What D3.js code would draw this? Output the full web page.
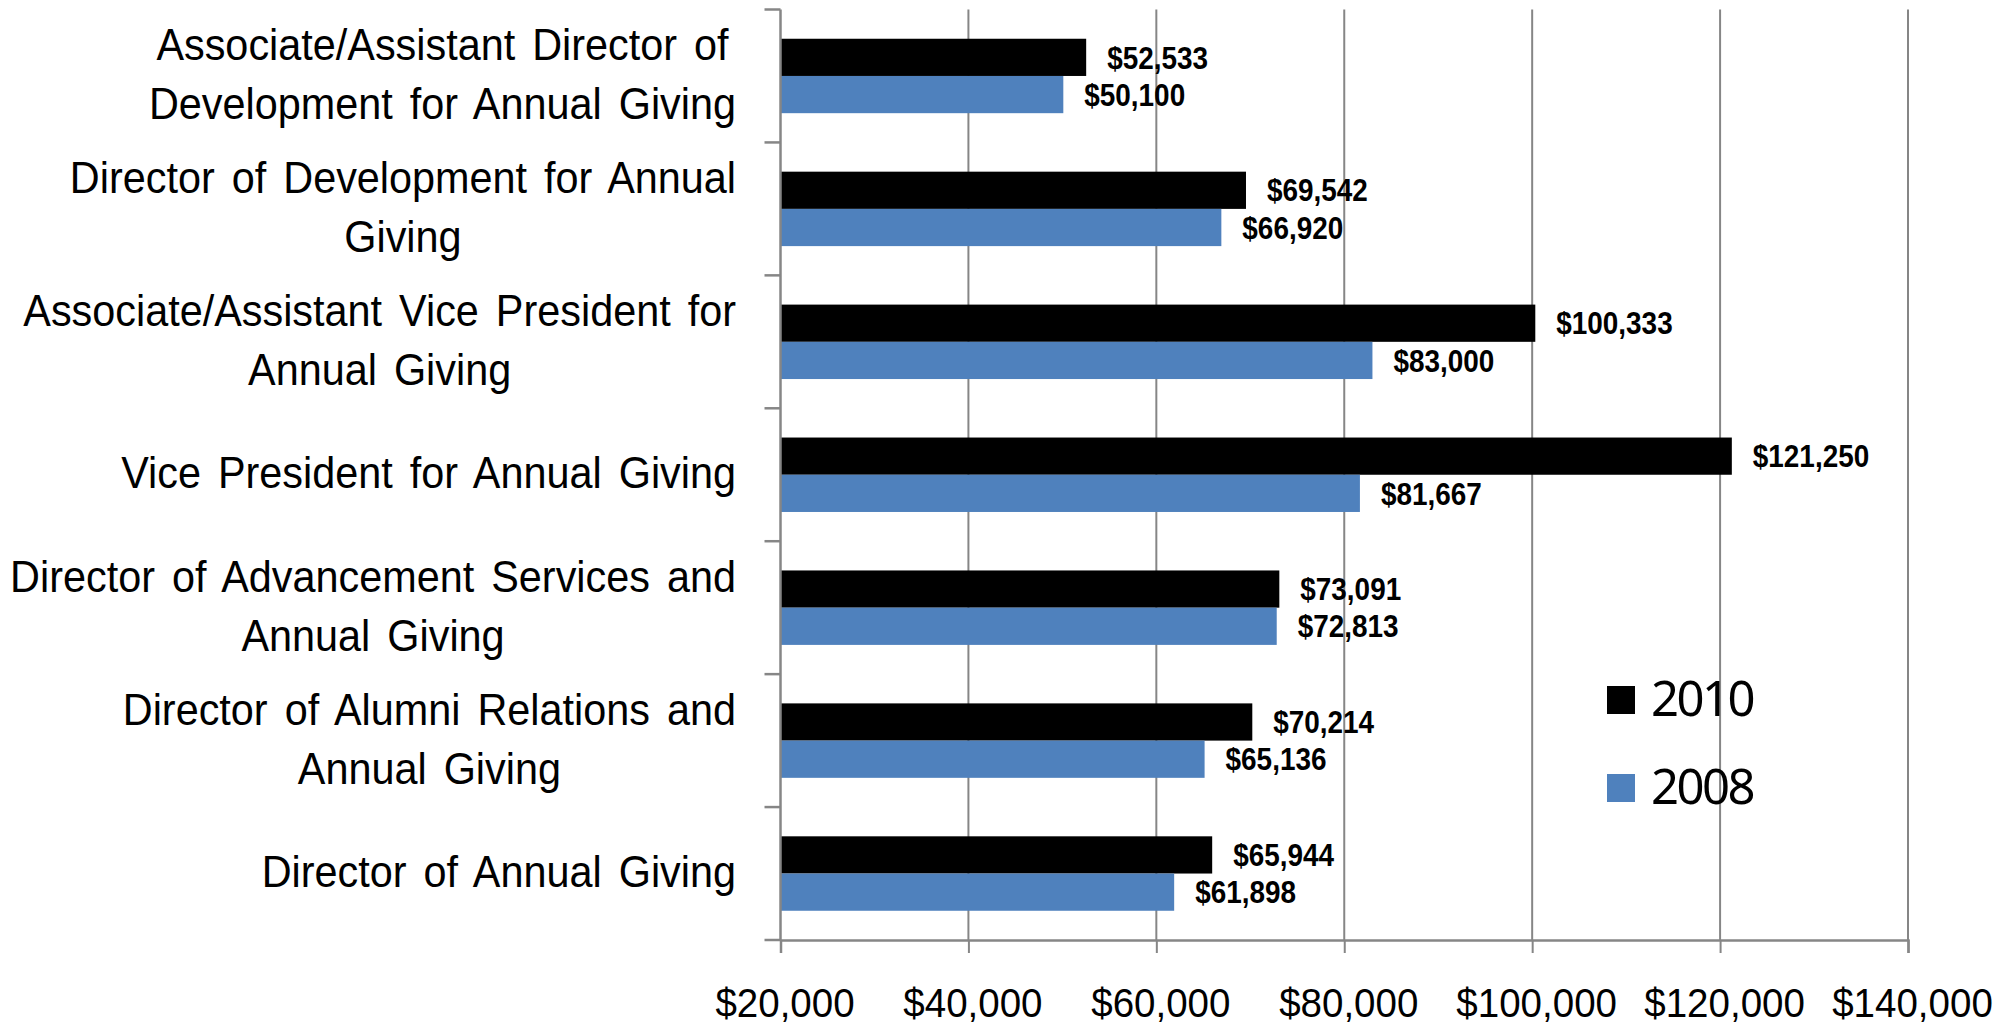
<!DOCTYPE html>
<html>
<head>
<meta charset="utf-8">
<script src="https://cdn.jsdelivr.net/npm/d3@7"></script>
<style>
  html, body { margin: 0; padding: 0; background: #fff; }
  svg { display: block; }
</style>
</head>
<body>
<script>
// ---- Data ----
const categories = [
  "Associate/Assistant Director of\nDevelopment for Annual Giving",
  "Director of Development for Annual\nGiving",
  "Associate/Assistant Vice President for\nAnnual Giving",
  "Vice President for Annual Giving",
  "Director of Advancement Services and\nAnnual Giving",
  "Director of Alumni Relations and\nAnnual Giving",
  "Director of Annual Giving"
];
const seriesNames = ["2010", "2008"];
const values2010 = [52533, 69542, 100333, 121250, 73091, 70214, 65944];
const values2008 = [50100, 66920, 83000, 81667, 72813, 65136, 61898];
const tickValues = [20000, 40000, 60000, 80000, 100000, 120000, 140000];
const colors = ["#000000", "#4F81BD"];

// ---- Layout ----
const W = 2002, H = 1024;
const plotL = 780.5, plotR = 1908, plotT = 9.5, plotB = 940;
const sans = "'Liberation Sans', Arial, sans-serif";
const gridColor = "#868686";

const svg = d3.select("body").append("svg").attr("width", W).attr("height", H);

const x = d3.scaleLinear().domain([20000, 140000]).range([plotL, plotR]);
const y = d3.scaleBand().domain(categories).range([plotT, plotB]).paddingInner(0.44).paddingOuter(0.22);
const ySub = d3.scaleBand().domain(seriesNames).range([0, y.bandwidth()]);

// gridlines
svg.append("g").selectAll("line").data(tickValues.slice(1)).join("line")
  .attr("x1", d => x(d)).attr("x2", d => x(d))
  .attr("y1", plotT).attr("y2", plotB)
  .attr("stroke", gridColor).attr("stroke-width", 2);

// bars
const rows = categories.map((c, i) => ({ cat: c, vals: [values2010[i], values2008[i]] }));
const groups = svg.append("g").selectAll("g").data(rows).join("g")
  .attr("transform", d => `translate(0,${y(d.cat)})`);

groups.selectAll("rect").data(d => d.vals.map((v, j) => ({ v, s: seriesNames[j], j }))).join("rect")
  .attr("x", x(20000))
  .attr("y", d => ySub(d.s))
  .attr("width", d => x(d.v) - x(20000))
  .attr("height", ySub.bandwidth())
  .attr("fill", d => colors[d.j]);

const fmt = d3.format("$,");
groups.selectAll("g.lbl").data(d => d.vals.map((v, j) => ({ v, s: seriesNames[j], j }))).join("g")
  .attr("class", "lbl")
  .attr("transform", d => `translate(${x(d.v) + 21},${ySub(d.s) + ySub.bandwidth() / 2}) scale(0.9,1)`)
  .append("text")
  .attr("dy", "0.36em")
  .attr("font-family", sans)
  .attr("font-weight", "bold")
  .attr("font-size", 31)
  .attr("fill", "#000")
  .text(d => fmt(d.v));

// y axis line and ticks at band boundaries
const step = y.step();
const boundaries = d3.range(categories.length + 1).map(i => plotT + i * step);
svg.append("line").attr("x1", plotL).attr("x2", plotL).attr("y1", plotT).attr("y2", plotB)
  .attr("stroke", gridColor).attr("stroke-width", 2.5);
svg.append("g").selectAll("line").data(boundaries).join("line")
  .attr("x1", plotL - 16).attr("x2", plotL).attr("y1", d => d).attr("y2", d => d)
  .attr("stroke", gridColor).attr("stroke-width", 2.5);

// x axis
const xAxis = d3.axisBottom(x).tickValues(tickValues).tickSize(13).tickPadding(0).tickFormat(fmt);
const xg = svg.append("g").attr("transform", `translate(0,${plotB})`).call(xAxis);
xg.select(".domain").attr("stroke", gridColor).attr("stroke-width", 2.5);
xg.selectAll(".tick line").attr("stroke", gridColor).attr("stroke-width", 2);
xg.selectAll(".tick text")
  .attr("y", 0).attr("dy", 0)
  .attr("transform", "translate(4,77) scale(0.94,1)")
  .attr("font-family", sans).attr("font-size", 41).attr("fill", "#000");

// category labels
const labelRight = 736, lineH = 59;
categories.forEach(c => {
  const lines = c.split("\n");
  const cy = y(c) + y.bandwidth() / 2 - 2.5;
  const g = svg.append("g").attr("transform", `translate(${labelRight},${cy}) scale(0.92,1)`);
  const t = g.append("text")
    .attr("font-family", sans).attr("font-size", 45).attr("fill", "#000")
    .attr("text-anchor", "middle").attr("word-spacing", 6);
  lines.forEach((ln, k) => {
    t.append("tspan").attr("y", (k - (lines.length - 1) / 2) * lineH).attr("dy", "0.36em").text(ln);
  });
  let maxW = 0;
  t.selectAll("tspan").each(function () { maxW = Math.max(maxW, this.getComputedTextLength()); });
  t.selectAll("tspan").attr("x", -maxW / 2);
});

// legend
const legend = svg.append("g").selectAll("g").data(seriesNames).join("g")
  .attr("transform", (d, i) => `translate(1607,${700 + i * 88})`);
legend.append("rect").attr("x", 0).attr("y", -14).attr("width", 28).attr("height", 28)
  .attr("fill", (d, i) => colors[i]);
legend.append("text").attr("x", 44).attr("y", 0).attr("dy", "0.32em")
  .attr("font-family", "'Noto Sans', 'Open Sans', sans-serif").attr("font-size", 49)
  .attr("letter-spacing", -2.5).attr("fill", "#000").text(d => d);
</script>
</body>
</html>
